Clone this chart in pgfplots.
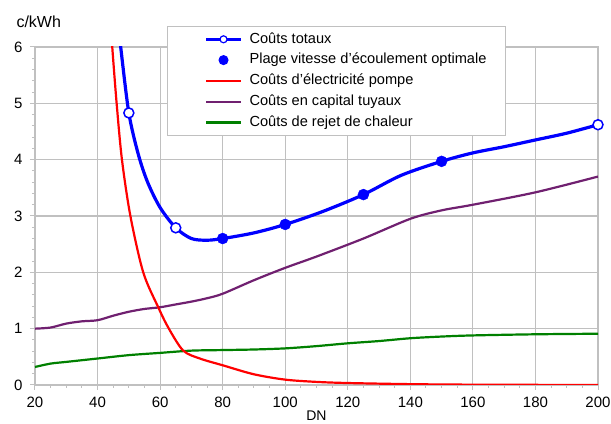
\documentclass[border=0pt]{standalone}
\usepackage{fontspec}
\setmainfont{Liberation Sans}
\usepackage{pgfplots}
\pgfplotsset{compat=1.18}
\definecolor{ctot}{RGB}{0,0,255}
\definecolor{cpump}{RGB}{255,0,0}
\definecolor{cpipe}{RGB}{112,32,112}
\definecolor{cheat}{RGB}{0,128,0}
\definecolor{cgrid}{RGB}{192,192,192}

\begin{document}
\begin{tikzpicture}
\begin{axis}[
  name=ax,
  scale only axis,
  width=563pt, height=338pt,
  xmin=20, xmax=200, ymin=0, ymax=6,
  xtick={20,40,...,200}, ytick={0,1,...,6},
  minor x tick num=3, minor y tick num=4,
  tick align=outside, xtick pos=bottom, ytick pos=left,
  major tick length=5pt, minor tick length=3pt,
  tick style={cgrid, line width=1pt},
  grid=major, major grid style={cgrid, line width=1.1pt},
  axis line style={cgrid, line width=1.1pt},
  ticklabel style={font=\fontsize{15}{17}\selectfont},
  xticklabel style={yshift=-4pt},
  yticklabel style={xshift=-4pt},
  /pgf/number format/assume math mode=true,
  xlabel={DN},
  xlabel style={font=\fontsize{14}{16}\selectfont, at={(axis description cs:0.5,0)}, anchor=north, yshift=-22pt},
  legend cell align=left,
  legend style={at={(0.2345,1.062)}, anchor=north west, draw=cgrid, line width=1pt, fill=white,
    font=\fontsize{14.6}{17}\selectfont, inner xsep=19pt, inner ysep=5.5pt, row sep=6.3pt,
    nodes={inner sep=0pt, text height=11pt, text depth=3.5pt},
    /tikz/every odd column/.style={column sep=7pt}},
]
\addlegendimage{legend image code/.code={\path (-19pt,0pt) (35pt,0pt);
  \draw[ctot, line width=3pt] (0pt,0pt) -- (35pt,0pt);
  \draw[ctot, line width=1.2pt, fill=white] (17.5pt,0pt) circle (3.5pt);}}
\addlegendentry{Coûts totaux}
\addlegendimage{legend image code/.code={\path (-19pt,0pt) (35pt,0pt);
  \fill[ctot] (17.5pt,0pt) circle (4.5pt);}}
\addlegendentry{Plage vitesse d’écoulement optimale}
\addlegendimage{legend image code/.code={\path (-19pt,0pt) (35pt,0pt);
  \draw[cpump, line width=2.2pt] (0pt,0pt) -- (35pt,0pt);}}
\addlegendentry{Coûts d’électricité pompe}
\addlegendimage{legend image code/.code={\path (-19pt,0pt) (35pt,0pt);
  \draw[cpipe, line width=2.2pt] (0pt,0pt) -- (35pt,0pt);}}
\addlegendentry{Coûts en capital tuyaux}
\addlegendimage{legend image code/.code={\path (-19pt,0pt) (35pt,0pt);
  \draw[cheat, line width=2.2pt] (0pt,0pt) -- (35pt,0pt);}}
\addlegendentry{Coûts de rejet de chaleur}

% chaleur
\addplot[cheat, line width=2.2pt, smooth, forget plot] coordinates {
  (20,0.32) (25,0.38) (30,0.41) (40,0.47) (50,0.53) (60,0.57) (70,0.61)
  (80,0.62) (90,0.63) (100,0.65) (110,0.69) (120,0.74) (130,0.78)
  (140,0.83) (150,0.86) (160,0.88) (180,0.90) (200,0.91)
};
% tuyaux
\addplot[cpipe, line width=2.2pt, smooth, forget plot] coordinates {
  (20,1.00) (25,1.02) (30,1.09) (35,1.13) (40,1.15) (45,1.23) (50,1.30)
  (55,1.35) (60,1.38) (65,1.43) (70,1.48) (75,1.54) (80,1.62) (90,1.86)
  (100,2.08) (110,2.28) (125,2.60) (140,2.95) (150,3.10) (160,3.20)
  (180,3.42) (200,3.70)
};
% pompe
\addplot[cpump, line width=2.2pt, smooth, forget plot] coordinates {
  (44.3,6.4) (44.7,6.0) (46.1,5.0) (47.8,4.0) (50.5,3.0) (54.6,2.0)
  (59.4,1.38) (62.8,1.0) (67.4,0.61) (72.7,0.47) (80,0.35)
  (90,0.19) (100,0.095) (110,0.055) (120,0.035)
  (140,0.015) (160,0.006) (200,0.0)
};
% totaux
\addplot[ctot, line width=3.2pt, smooth, forget plot] coordinates {
  (46.9,6.3) (47.4,6.0) (50,4.83) (53,4.1) (56,3.6) (60,3.15) (65,2.79)
  (70,2.6) (75,2.57) (80,2.6) (90,2.7) (100,2.85) (112,3.08)
  (125,3.38) (137,3.72) (150,3.97) (160,4.12) (170,4.23) (180,4.35)
  (190,4.47) (200,4.62)
};
\addplot[only marks, mark=*, mark size=5pt, mark options={draw=ctot, fill=white, line width=1.5pt}, forget plot]
  coordinates {(50,4.83) (65,2.79) (200,4.62)};
\addplot[only marks, mark=*, mark size=5.5pt, mark options={draw=ctot, fill=ctot}, forget plot]
  coordinates {(80,2.6) (100,2.85) (125,3.38) (150,3.97)};
\end{axis}
\node[anchor=base west, font=\fontsize{16}{18}\selectfont] at ([xshift=-22pt, yshift=19pt]ax.north west) {c/kWh};
\pgfresetboundingbox
\path[use as bounding box] ([xshift=-35pt,yshift=-39pt]ax.south west) rectangle ([xshift=13pt,yshift=47pt]ax.north east);
\end{tikzpicture}
\end{document}
